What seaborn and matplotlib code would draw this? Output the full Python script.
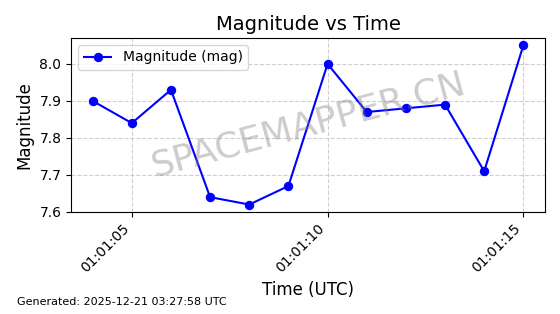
import matplotlib
matplotlib.use("Agg")
import matplotlib.pyplot as plt
import matplotlib.dates as mdates
import seaborn as sns
import pandas as pd

times = ["01:01:04", "01:01:05", "01:01:06", "01:01:07", "01:01:08", "01:01:09",
         "01:01:10", "01:01:11", "01:01:12", "01:01:13", "01:01:14", "01:01:15"]
magnitudes = [7.90, 7.84, 7.93, 7.64, 7.62, 7.67, 8.00, 7.87, 7.88, 7.89, 7.71, 8.05]

df = pd.DataFrame({
    "time": pd.to_datetime(["2025-12-21 " + t for t in times]),
    "mag": magnitudes,
})

fig, ax = plt.subplots(figsize=(5.6, 3.14), dpi=100)
sns.lineplot(data=df, x="time", y="mag", ax=ax, color="blue", marker="o",
             markersize=6, markeredgecolor="blue", linewidth=1.5,
             label="Magnitude (mag)")
ax.set_ylim(min(magnitudes) - 0.02, max(magnitudes) + 0.02)
ax.set_title("Magnitude vs Time", fontsize=14)
ax.set_xlabel("Time (UTC)", fontsize=12)
ax.set_ylabel("Magnitude", fontsize=12)
ax.grid(True, linestyle="--", alpha=0.6)
ax.xaxis.set_major_locator(mdates.SecondLocator(bysecond=list(range(0, 60, 5))))
ax.xaxis.set_major_formatter(mdates.DateFormatter("%H:%M:%S"))
plt.setp(ax.get_xticklabels(), rotation=45, ha="right")
ax.legend(loc="upper left")
ax.text(0.5, 0.5, "SPACEMAPPER.CN", transform=ax.transAxes, fontsize=26,
        color="gray", alpha=0.4, rotation=15, ha="center", va="center")
fig.subplots_adjust(left=0.127, right=0.973, top=0.879, bottom=0.325)
fig.text(0.03, 0.03, "Generated: 2025-12-21 03:27:58 UTC", fontsize=8)
fig.savefig("out.png", dpi=100)
